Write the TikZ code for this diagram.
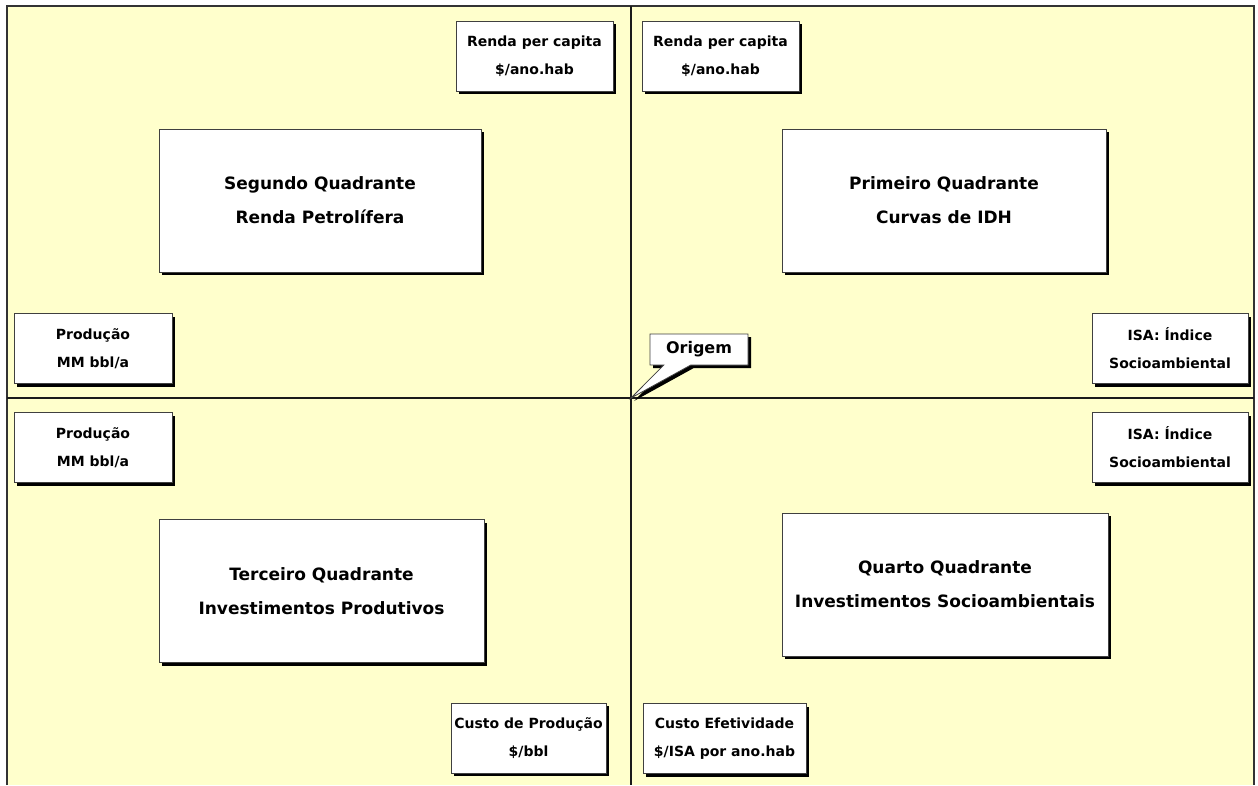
\documentclass[tikz,border=0pt]{standalone}
\usepackage{fontspec}
\setmainfont{DejaVu Sans}
\usetikzlibrary{shadows,shapes.callouts}
\definecolor{paper}{HTML}{FFFFCC}
\definecolor{rule}{HTML}{1A1A1A}
\begin{document}
\begin{tikzpicture}[x=1pt,y=-1pt,
  shadowed/.style={drop shadow={shadow xshift=3pt,shadow yshift=-3pt,opacity=1,fill=black}},
  card/.style={draw=black!75,fill=white,line width=0.8pt,align=center,inner sep=0pt,shadowed},
  bigcard/.style={card,minimum height=143pt,
    font=\bfseries\fontsize{17}{34}\selectfont},
  smallcard/.style={card,minimum height=70pt,
    font=\bfseries\fontsize{14}{28}\selectfont},
  axis/.style={line width=2pt,draw=rule}]
\useasboundingbox (0,0) rectangle (1258,785);
% background and frame
\fill[paper] (7,6) rectangle (1254,785);
\draw[line width=2pt,draw=black!80] (7,785) -- (7,6) -- (1254,6) -- (1254,785);
% axes
\coordinate (O) at (631,398);
\coordinate (top) at (631,6);
\coordinate (bot) at (631,785);
\coordinate (lft) at (7,398);
\coordinate (rgt) at (1254,398);
\draw[axis] (top) -- (bot);
\draw[axis] (lft) -- (rgt);
% quadrant titles
\node[bigcard,minimum width=322pt] (seg) at (320,200.5) {Segundo Quadrante\\Renda Petrolífera};
\node[bigcard,minimum width=324pt] (prim) at (944,200.5) {Primeiro Quadrante\\Curvas de IDH};
\node[bigcard,minimum width=325pt] (terc) at (321.5,591) {Terceiro Quadrante\\Investimentos Produtivos};
\node[bigcard,minimum width=326pt] (quar) at (945,584.5) {Quarto Quadrante\\Investimentos Socioambientais};
% axis labels
\node[smallcard,minimum width=157pt] (rendaL) at (534.5,56) {Renda per capita\\\$/ano.hab};
\node[smallcard,minimum width=157pt] (rendaR) at (720.5,56) {Renda per capita\\\$/ano.hab};
\node[smallcard,minimum width=158pt] (prodT) at (93,348.5) {Produção\\MM bbl/a};
\node[smallcard,minimum width=158pt] (prodB) at (93,447.5) {Produção\\MM bbl/a};
\node[smallcard,minimum width=156pt] (isaT) at (1170,348.5) {ISA: Índice\\Socioambiental};
\node[smallcard,minimum width=156pt] (isaB) at (1170,447.5) {ISA: Índice\\Socioambiental};
\node[smallcard,minimum width=155pt] (custoP) at (528.5,738) {Custo de Produção\\\$/bbl};
\node[smallcard,minimum width=163pt] (custoE) at (724.5,738.5) {Custo Efetividade\\\$/ISA por ano.hab};
% origin callout
\node[rectangle callout,draw=black!75,fill=white,line width=0.8pt,shadowed,
  minimum width=98pt,minimum height=31pt,inner sep=0pt,
  callout absolute pointer={(O)},callout pointer width=27pt,
  font=\bfseries\fontsize{16}{18}\selectfont] (orig) at (699,349.5) {Origem};
\end{tikzpicture}
\end{document}
